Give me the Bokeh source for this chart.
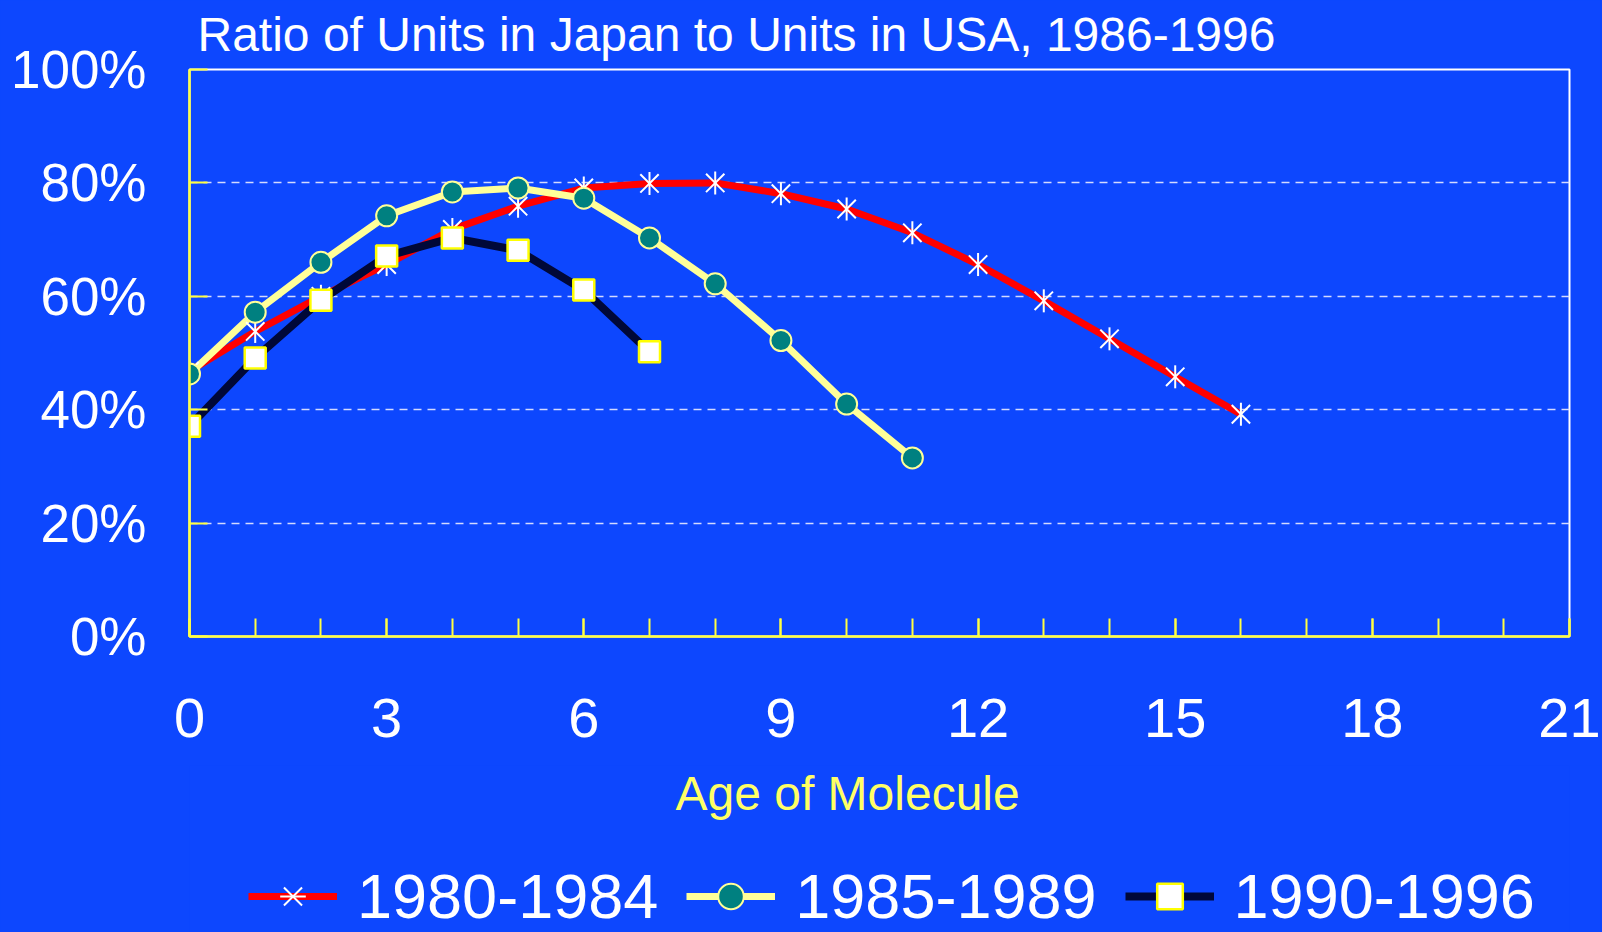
import math
from bokeh.plotting import figure
from bokeh.layouts import column
from bokeh.models import (Range1d, FixedTicker, PrintfTickFormatter, Legend,
                          LegendItem, Label, ColumnDataSource)
from bokeh.embed import file_html
from bokeh.resources import INLINE

# ---- data ----
ages_a = list(range(0, 17))
ratio_a = [46.8, 53.8, 60.0, 65.6, 71.8, 75.9, 79.1, 79.9, 80.0, 78.1,
           75.4, 71.2, 65.6, 59.2, 52.5, 45.8, 39.2]
ages_b = list(range(0, 12))
ratio_b = [46.3, 57.2, 66.0, 74.2, 78.4, 79.1, 77.3, 70.3, 62.2, 52.2, 41.0, 31.5]
ages_c = list(range(0, 8))
ratio_c = [37.1, 49.1, 59.3, 67.1, 70.3, 68.1, 61.1, 50.2]
series_labels = ["1980-1984", "1985-1989", "1990-1996"]
x_ticks = [0, 3, 6, 9, 12, 15, 18, 21]
x_minor = list(range(0, 22))
y_ticks = [0, 20, 40, 60, 80, 100]
grid_ticks = [20, 40, 60, 80]
title_text = "Ratio of Units in Japan to Units in USA, 1986-1996"
x_title = "Age of Molecule"

BG = "#0D47FE"
YEL = "#FFFF40"
FONT = "Liberation Sans"

RED, CREAM, TEAL, NAVY = "#FF0000", "#FFFF99", "#008080", "#000838"

# ---------------- main chart ----------------
p = figure(width=1602, height=765, output_backend="svg", toolbar_location=None,
           x_range=Range1d(0, 21), y_range=Range1d(0, 100),
           min_border_left=189, min_border_right=33, min_border_top=68,
           min_border_bottom=129)
p.background_fill_color = BG
p.border_fill_color = BG
p.outline_line_color = "#FFFFFF"
p.outline_line_width = 2

p.title.text = title_text
p.title.text_font = FONT
p.title.text_font_size = "48px"
p.title.text_font_style = "normal"
p.title.text_color = "white"
p.title.align = "left"
p.title.offset = 8
p.title.vertical_align = "top"
p.title.standoff = 14

xa = p.xaxis[0]
xa.ticker = FixedTicker(ticks=x_ticks, minor_ticks=x_minor)
xa.axis_line_color = YEL
xa.axis_line_width = 2.5
xa.major_tick_line_color = YEL
xa.major_tick_line_width = 2
xa.major_tick_in = 18
xa.major_tick_out = 0
xa.minor_tick_line_color = YEL
xa.minor_tick_line_width = 2
xa.minor_tick_in = 18
xa.minor_tick_out = 0
xa.major_label_text_font_size = "56px"
xa.major_label_text_color = "white"
xa.major_label_text_font = FONT
xa.major_label_standoff = 62

ya = p.yaxis[0]
ya.ticker = FixedTicker(ticks=y_ticks)
ya.formatter = PrintfTickFormatter(format="%d%%")
ya.axis_line_color = YEL
ya.axis_line_width = 2.5
ya.major_tick_line_color = YEL
ya.major_tick_line_width = 2
ya.major_tick_in = 18
ya.major_tick_out = 0
ya.minor_tick_line_color = None
ya.major_label_text_font_size = "53px"
ya.major_label_text_color = "white"
ya.major_label_text_font = FONT
ya.major_label_standoff = 43

p.xgrid.visible = False
p.ygrid.ticker = FixedTicker(ticks=grid_ticks)
p.ygrid.grid_line_color = "#D4DAFF"
p.ygrid.grid_line_width = 1.5
p.ygrid.grid_line_dash = "8 6"

src_a = ColumnDataSource(dict(x=ages_a, y=ratio_a))
src_b = ColumnDataSource(dict(x=ages_b, y=ratio_b))
src_c = ColumnDataSource(dict(x=ages_c, y=ratio_c))


def draw_series(fig, sa, sb, sc):
    la = fig.line("x", "y", source=sa, line_color=RED, line_width=7, line_join="round")
    lb = fig.line("x", "y", source=sb, line_color=CREAM, line_width=7, line_join="round")
    lc = fig.line("x", "y", source=sc, line_color=NAVY, line_width=8, line_join="round")
    ma1 = fig.scatter("x", "y", source=sa, marker="x", size=26, line_color="white", line_width=2)
    ma2 = fig.scatter("x", "y", source=sa, marker="dash", angle=math.pi / 2, size=23,
                      line_color="white", line_width=2)
    mb = fig.scatter("x", "y", source=sb, marker="circle", size=21, fill_color=TEAL,
                     line_color=CREAM, line_width=2)
    mc = fig.scatter("x", "y", source=sc, marker="square", size=21, fill_color="white",
                     line_color="#FFFF00", line_width=2.5)
    return [[la, ma1, ma2], [lb, mb], [lc, mc]]


draw_series(p, src_a, src_b, src_c)

# ---------------- bottom strip: axis title + legend ----------------
# (same series drawn again, but outside this strip's visible ranges, so only the legend shows them)
q = figure(width=1602, height=167, output_backend="svg", toolbar_location=None,
           x_range=Range1d(-100, -99), y_range=Range1d(-100, -99),
           x_axis_location=None, y_axis_location=None,
           min_border_left=0, min_border_right=0, min_border_top=0, min_border_bottom=0)
q.background_fill_color = BG
q.border_fill_color = BG
q.outline_line_color = None
q.xgrid.visible = False
q.ygrid.visible = False

groups = draw_series(q, src_a, src_b, src_c)

q.add_layout(Label(x=486, y=139, x_units="screen", y_units="screen", text=x_title,
                   text_font_size="48px", text_color="#FFFF66", text_font=FONT,
                   text_baseline="alphabetic", text_align="left"))

legend = Legend(items=[LegendItem(label=series_labels[i], renderers=groups[i]) for i in range(3)],
                location=(59, 0), orientation="horizontal", glyph_width=89,
                glyph_height=64, label_standoff=20, spacing=28, padding=0, margin=0,
                label_text_font_size="63px", label_text_color="white",
                label_text_font=FONT, border_line_alpha=0, background_fill_alpha=0)
q.add_layout(legend, "center")

layout = column(p, q, spacing=0, styles={"background-color": BG})
open("out.html", "w").write(file_html(layout, INLINE))
